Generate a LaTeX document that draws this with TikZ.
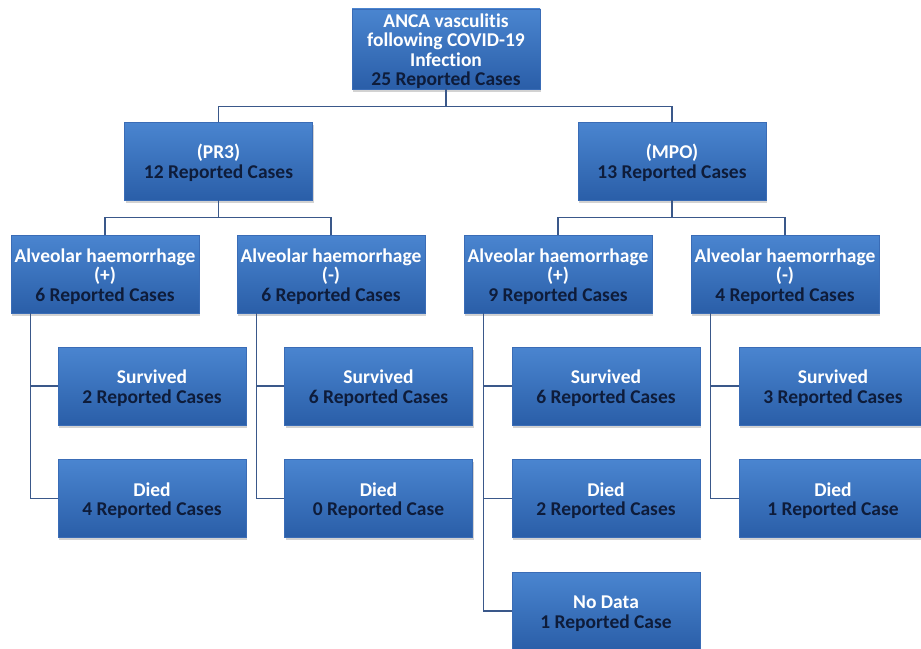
\documentclass[tikz,border=0pt]{standalone}
\usepackage{fontspec}
\setmainfont{Carlito}[Ligatures={NoCommon}]
\usetikzlibrary{shadows}
\definecolor{boxtop}{RGB}{74,133,208}
\definecolor{boxbot}{RGB}{42,94,168}
\definecolor{boxline}{RGB}{58,108,182}
\definecolor{navytext}{RGB}{14,28,58}
\definecolor{linkcol}{RGB}{58,88,138}
\tikzset{
  box/.style={rectangle, minimum width=188pt, minimum height=78pt, inner sep=0pt,
    top color=boxtop, bottom color=boxbot, draw=boxline, line width=0.6pt,
    drop shadow={opacity=0.35, shadow xshift=1pt, shadow yshift=-2.5pt},
    align=center, text=white, font=\bfseries\fontsize{19.5}{19.5}\selectfont},
  link/.style={draw=linkcol, line width=1.3pt},
}
\newcommand{\cnt}[1]{{\color{navytext}#1}}
\newcommand{\up}{\rule{0pt}{18.5pt}}
\begin{document}
\begin{tikzpicture}[x=1pt,y=-1pt]
\useasboundingbox (0,0) rectangle (921,648);
\clip (0,0) rectangle (921,648);
\fill[white] (0,0) rectangle (921,648);
% nodes
\node[box] (top) at (446,49) {\up ANCA vasculitis\\following COVID-19\\Infection\\\cnt{25 Reported Cases}};
\node[box] (pr3) at (218.5,161) {\up(PR3)\\\cnt{12 Reported Cases}};
\node[box] (mpo) at (672,161) {\up(MPO)\\\cnt{13 Reported Cases}};
\node[box] (a1) at (105,274) {\up Alveolar haemorrhage\\(+)\\\cnt{6 Reported Cases}};
\node[box] (a2) at (331,274) {\up Alveolar haemorrhage\\(-)\\\cnt{6 Reported Cases}};
\node[box] (a3) at (558,274) {\up Alveolar haemorrhage\\(+)\\\cnt{9 Reported Cases}};
\node[box] (a4) at (785,274) {\up Alveolar haemorrhage\\(-)\\\cnt{4 Reported Cases}};
\node[box] (s1) at (152,386) {\up Survived\\\cnt{2 Reported Cases}};
\node[box] (s2) at (378.5,386) {\up Survived\\\cnt{6 Reported Cases}};
\node[box] (s3) at (606,386) {\up Survived\\\cnt{6 Reported Cases}};
\node[box] (s4) at (833,386) {\up Survived\\\cnt{3 Reported Cases}};
\node[box] (d1) at (152,498.5) {\up Died\\\cnt{4 Reported Cases}};
\node[box] (d2) at (378.5,498.5) {\up Died\\\cnt{0 Reported Case}};
\node[box] (d3) at (606,498.5) {\up Died\\\cnt{2 Reported Cases}};
\node[box] (d4) at (833,498.5) {\up Died\\\cnt{1 Reported Case}};
\node[box] (n3) at (606,611) {\up No Data\\\cnt{1 Reported Case}};
% connectors
\draw[link] (top.south) -- ++(0,17) -| (pr3.north);
\draw[link] (top.south) -- ++(0,17) -| (mpo.north);
\draw[link] (pr3.south) -- ++(0,17) -| (a1.north);
\draw[link] (pr3.south) -- ++(0,17) -| (a2.north);
\draw[link] (mpo.south) -- ++(0,17) -| (a3.north);
\draw[link] (mpo.south) -- ++(0,17) -| (a4.north);
\foreach \a/\s/\d in {a1/s1/d1, a2/s2/d2, a3/s3/d3, a4/s4/d4}{
  \draw[link] ([xshift=19.5pt]\a.south west) |- (\s.west);
  \draw[link] ([xshift=19.5pt]\a.south west) |- (\d.west);
}
\draw[link] ([xshift=19.5pt]a3.south west) |- (n3.west);
\end{tikzpicture}
\end{document}
